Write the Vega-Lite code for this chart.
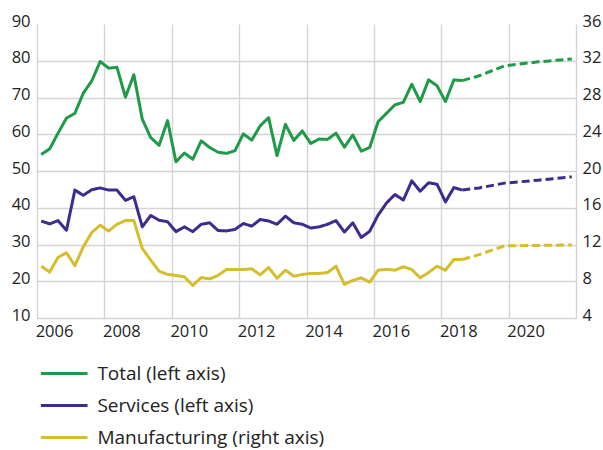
{
  "$schema": "https://vega.github.io/schema/vega-lite/v6.json",
  "width": 539,
  "height": 294,
  "autosize": {"type": "none"},
  "padding": {"left": 37, "top": 24, "right": 27, "bottom": 132},
  "background": "white",
  "config": {
    "font": "Open Sans",
    "view": {"stroke": null},
    "axis": {
      "labelFont": "Open Sans",
      "labelFontSize": 16.5,
      "labelColor": "#222222",
      "domain": false,
      "ticks": false,
      "gridColor": "#d4d4d4",
      "gridWidth": 1.4,
      "title": null
    },
    "legend": {
      "labelFont": "Open Sans",
      "labelFontSize": 19,
      "labelColor": "#222222",
      "labelLimit": 400
    }
  },
  "data": {
    "values": [
      {"t": 2006.125, "Total": 54.5, "Services": 36.4, "Manufacturing": 9.64, "k": "actual"},
      {"t": 2006.375, "Total": 56.0, "Services": 35.6, "Manufacturing": 9.0, "k": "actual"},
      {"t": 2006.625, "Total": 60.3, "Services": 36.5, "Manufacturing": 10.6, "k": "actual"},
      {"t": 2006.875, "Total": 64.4, "Services": 33.9, "Manufacturing": 11.1, "k": "actual"},
      {"t": 2007.125, "Total": 65.7, "Services": 44.8, "Manufacturing": 9.7, "k": "actual"},
      {"t": 2007.375, "Total": 71.2, "Services": 43.4, "Manufacturing": 11.75, "k": "actual"},
      {"t": 2007.625, "Total": 74.5, "Services": 44.9, "Manufacturing": 13.3, "k": "actual"},
      {"t": 2007.875, "Total": 79.8, "Services": 45.4, "Manufacturing": 14.1, "k": "actual"},
      {"t": 2008.125, "Total": 78.0, "Services": 44.8, "Manufacturing": 13.46, "k": "actual"},
      {"t": 2008.375, "Total": 78.2, "Services": 44.8, "Manufacturing": 14.2, "k": "actual"},
      {"t": 2008.625, "Total": 70.1, "Services": 42.0, "Manufacturing": 14.6, "k": "actual"},
      {"t": 2008.875, "Total": 76.2, "Services": 43.0, "Manufacturing": 14.6, "k": "actual"},
      {"t": 2009.125, "Total": 64.1, "Services": 34.8, "Manufacturing": 11.57, "k": "actual"},
      {"t": 2009.375, "Total": 59.1, "Services": 37.9, "Manufacturing": 10.3, "k": "actual"},
      {"t": 2009.625, "Total": 57.0, "Services": 36.6, "Manufacturing": 9.1, "k": "actual"},
      {"t": 2009.875, "Total": 63.7, "Services": 36.2, "Manufacturing": 8.74, "k": "actual"},
      {"t": 2010.125, "Total": 52.5, "Services": 33.5, "Manufacturing": 8.63, "k": "actual"},
      {"t": 2010.375, "Total": 54.9, "Services": 34.8, "Manufacturing": 8.48, "k": "actual"},
      {"t": 2010.625, "Total": 53.2, "Services": 33.5, "Manufacturing": 7.54, "k": "actual"},
      {"t": 2010.875, "Total": 58.2, "Services": 35.5, "Manufacturing": 8.4, "k": "actual"},
      {"t": 2011.125, "Total": 56.4, "Services": 35.9, "Manufacturing": 8.26, "k": "actual"},
      {"t": 2011.375, "Total": 55.1, "Services": 33.8, "Manufacturing": 8.63, "k": "actual"},
      {"t": 2011.625, "Total": 54.8, "Services": 33.7, "Manufacturing": 9.28, "k": "actual"},
      {"t": 2011.875, "Total": 55.5, "Services": 34.1, "Manufacturing": 9.28, "k": "actual"},
      {"t": 2012.125, "Total": 60.1, "Services": 35.7, "Manufacturing": 9.28, "k": "actual"},
      {"t": 2012.375, "Total": 58.4, "Services": 35.0, "Manufacturing": 9.35, "k": "actual"},
      {"t": 2012.625, "Total": 62.3, "Services": 36.8, "Manufacturing": 8.7, "k": "actual"},
      {"t": 2012.875, "Total": 64.5, "Services": 36.4, "Manufacturing": 9.5, "k": "actual"},
      {"t": 2013.125, "Total": 54.2, "Services": 35.5, "Manufacturing": 8.33, "k": "actual"},
      {"t": 2013.375, "Total": 62.7, "Services": 37.7, "Manufacturing": 9.2, "k": "actual"},
      {"t": 2013.625, "Total": 58.3, "Services": 35.9, "Manufacturing": 8.55, "k": "actual"},
      {"t": 2013.875, "Total": 60.9, "Services": 35.5, "Manufacturing": 8.74, "k": "actual"},
      {"t": 2014.125, "Total": 57.5, "Services": 34.5, "Manufacturing": 8.85, "k": "actual"},
      {"t": 2014.375, "Total": 58.7, "Services": 34.8, "Manufacturing": 8.85, "k": "actual"},
      {"t": 2014.625, "Total": 58.6, "Services": 35.5, "Manufacturing": 8.95, "k": "actual"},
      {"t": 2014.875, "Total": 60.3, "Services": 36.5, "Manufacturing": 9.64, "k": "actual"},
      {"t": 2015.125, "Total": 56.5, "Services": 33.4, "Manufacturing": 7.65, "k": "actual"},
      {"t": 2015.375, "Total": 59.8, "Services": 35.9, "Manufacturing": 8.1, "k": "actual"},
      {"t": 2015.625, "Total": 55.4, "Services": 31.9, "Manufacturing": 8.37, "k": "actual"},
      {"t": 2015.875, "Total": 56.4, "Services": 33.6, "Manufacturing": 7.9, "k": "actual"},
      {"t": 2016.125, "Total": 63.4, "Services": 38.0, "Manufacturing": 9.2, "k": "actual"},
      {"t": 2016.375, "Total": 65.7, "Services": 41.3, "Manufacturing": 9.3, "k": "actual"},
      {"t": 2016.625, "Total": 68.0, "Services": 43.6, "Manufacturing": 9.2, "k": "actual"},
      {"t": 2016.875, "Total": 68.7, "Services": 42.1, "Manufacturing": 9.57, "k": "actual"},
      {"t": 2017.125, "Total": 73.6, "Services": 47.3, "Manufacturing": 9.28, "k": "actual"},
      {"t": 2017.375, "Total": 68.9, "Services": 44.5, "Manufacturing": 8.37, "k": "actual"},
      {"t": 2017.625, "Total": 74.8, "Services": 46.8, "Manufacturing": 8.95, "k": "actual"},
      {"t": 2017.875, "Total": 73.2, "Services": 46.4, "Manufacturing": 9.64, "k": "actual"},
      {"t": 2018.125, "Total": 68.9, "Services": 41.6, "Manufacturing": 9.2, "k": "actual"},
      {"t": 2018.375, "Total": 74.8, "Services": 45.5, "Manufacturing": 10.37, "k": "actual"},
      {"t": 2018.625, "Total": 74.6, "Services": 44.8, "Manufacturing": 10.37, "k": "actual"},
      {"t": 2018.625, "Total": 74.6, "Services": 44.8, "Manufacturing": 10.37, "k": "forecast"},
      {"t": 2019.125, "Total": 75.9, "Services": 45.4, "Manufacturing": 10.9, "k": "forecast"},
      {"t": 2019.875, "Total": 78.6, "Services": 46.7, "Manufacturing": 11.85, "k": "forecast"},
      {"t": 2020.875, "Total": 79.7, "Services": 47.5, "Manufacturing": 11.9, "k": "forecast"},
      {"t": 2021.875, "Total": 80.5, "Services": 48.4, "Manufacturing": 11.95, "k": "forecast"}
    ]
  },
  "encoding": {
    "x": {
      "field": "t",
      "type": "quantitative",
      "scale": {"domain": [2006, 2022], "nice": false, "zero": false},
      "axis": {
        "values": [2006, 2008, 2010, 2012, 2014, 2016, 2018, 2020, 2022],
        "format": "d",
        "labelExpr": "datum.value == 2022 ? '' : datum.label",
        "labelOffset": 17,
        "labelPadding": 5,
        "labelFlush": false,
        "labelOverlap": false,
        "grid": true
      }
    }
  },
  "layer": [
    {
      "transform": [{"fold": ["Total", "Services"], "as": ["series", "v"]}],
      "mark": {"type": "line", "strokeWidth": 3, "strokeJoin": "round"},
      "encoding": {
        "y": {
          "field": "v",
          "type": "quantitative",
          "scale": {"domain": [10, 90], "nice": false, "zero": false},
          "axis": {
            "orient": "left",
            "values": [10, 20, 30, 40, 50, 60, 70, 80, 90],
            "labelPadding": 7,
            "labelOffset": -3,
            "grid": true,
            "gridOpacity": {"condition": {"test": "datum.value == 90", "value": 0}, "value": 1}
          }
        },
        "color": {
          "field": "series",
          "type": "nominal",
          "scale": {
            "domain": ["Total", "Services", "Manufacturing"],
            "range": ["#1f9a48", "#3e2b8f", "#d6bd2b"]
          },
          "legend": {
            "orient": "none",
            "legendX": 13.7,
            "legendY": 336,
            "direction": "vertical",
            "title": null,
            "padding": 0,
            "symbolType": "M-2,0H2",
            "symbolSize": 545,
            "symbolStrokeWidth": 3,
            "labelOffset": 19.7,
            "rowPadding": 8,
            "labelExpr": "datum.label + (datum.label == 'Manufacturing' ? ' (right axis)' : ' (left axis)')"
          }
        },
        "strokeDash": {
          "field": "k",
          "type": "nominal",
          "scale": {"domain": ["actual", "forecast"], "range": [[1, 0], [8, 4]]},
          "legend": null
        }
      }
    },
    {
      "transform": [{"fold": ["Manufacturing"], "as": ["series", "v"]}],
      "mark": {"type": "line", "strokeWidth": 3, "strokeJoin": "round"},
      "encoding": {
        "y": {
          "field": "v",
          "type": "quantitative",
          "scale": {"domain": [4, 36], "nice": false, "zero": false},
          "axis": {
            "orient": "right",
            "values": [4, 8, 12, 16, 20, 24, 28, 32, 36],
            "labelPadding": 6,
            "labelOffset": -3,
            "grid": false
          }
        },
        "color": {"field": "series", "type": "nominal"},
        "strokeDash": {
          "field": "k",
          "type": "nominal",
          "scale": {"domain": ["actual", "forecast"], "range": [[1, 0], [8, 4]]},
          "legend": null
        }
      }
    }
  ],
  "resolve": {"scale": {"y": "independent"}}
}
